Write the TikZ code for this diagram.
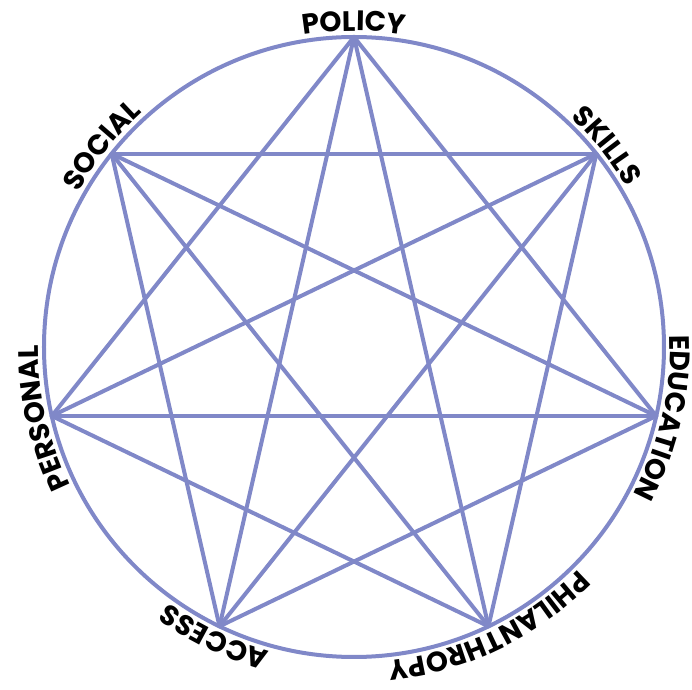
\documentclass[tikz,border=0pt]{standalone}
\usepackage{fontspec}
\setmainfont{Poppins}
\usetikzlibrary{decorations.text}
\definecolor{starline}{RGB}{128,136,200}
\newcommand\lblfont{\fontsize{20pt}{24pt}\selectfont\bfseries}
\begin{document}
\begin{tikzpicture}[x=0.025cm,y=0.025cm,
  ring/.style={draw=starline,line width=1mm},
  edge/.style={draw=starline,line width=1mm,line cap=round},
  lbl/.style={decorate,decoration={text along path,text align=center}}]
\useasboundingbox (-354,-343) rectangle (338,347);
\draw[ring] (0,0) circle[radius=310];
\coordinate (policy) at (90:310);
\coordinate (skills) at (38.57:310);
\coordinate (education) at (-12.86:310);
\coordinate (philanthropy) at (-64.29:310);
\coordinate (access) at (-115.71:310);
\coordinate (personal) at (-167.14:310);
\coordinate (social) at (141.43:310);
\draw[edge] (policy)--(education);
\draw[edge] (skills)--(philanthropy);
\draw[edge] (education)--(access);
\draw[edge] (philanthropy)--(personal);
\draw[edge] (access)--(social);
\draw[edge] (personal)--(policy);
\draw[edge] (social)--(skills);
\draw[edge] (policy)--(philanthropy);
\draw[edge] (skills)--(access);
\draw[edge] (education)--(personal);
\draw[edge] (philanthropy)--(social);
\draw[edge] (access)--(policy);
\draw[edge] (personal)--(skills);
\draw[edge] (social)--(education);
\path[lbl,decoration={text={|\lblfont|POLICY}}] (130:316) arc[start angle=130,end angle=50,radius=316];
\path[lbl,decoration={text={|\lblfont|SKILLS}}] (78.57:316) arc[start angle=78.57,end angle=-1.43,radius=316];
\path[lbl,decoration={text={|\lblfont|EDUCATION}}] (27.14:316) arc[start angle=27.14,end angle=-52.86,radius=316];
\path[lbl,decoration={text={|\lblfont|PHILANTHROPY}}] (-24.29:316) arc[start angle=-24.29,end angle=-104.29,radius=316];
\path[lbl,decoration={text={|\lblfont|ACCESS}}] (-75.71:316) arc[start angle=-75.71,end angle=-155.71,radius=316];
\path[lbl,decoration={text={|\lblfont|PERSONAL}}] (-127.14:316) arc[start angle=-127.14,end angle=-207.14,radius=316];
\path[lbl,decoration={text={|\lblfont|SOCIAL}}] (181.43:316) arc[start angle=181.43,end angle=101.43,radius=316];
\end{tikzpicture}
\end{document}
